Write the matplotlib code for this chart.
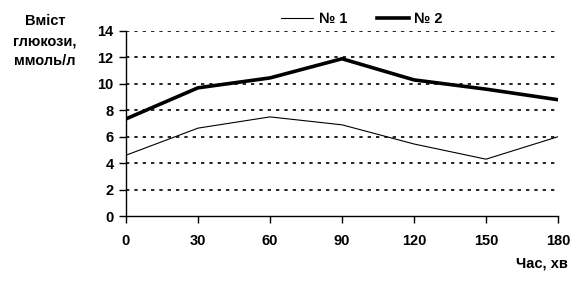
import matplotlib
matplotlib.use("Agg")
import matplotlib.pyplot as plt

plt.rcParams['font.family'] = ['Liberation Sans', 'DejaVu Sans']

time_min = [0, 30, 60, 90, 120, 150, 180]
series1 = [4.6, 6.65, 7.5, 6.9, 5.45, 4.3, 6.0]
series2 = [7.35, 9.7, 10.45, 11.9, 10.3, 9.6, 8.8]
y_ticks = [0, 2, 4, 6, 8, 10, 12, 14]

fig = plt.figure(figsize=(5.8, 2.83), dpi=100)
ax = fig.add_axes([126/580, 1-216/283, (558-126)/580, (216-31)/283])

for y in y_ticks[1:]:
    ax.axhline(y, color='black', lw=1.2, ls=(0, (2, 3)), zorder=1)

l1, = ax.plot(time_min, series1, color='black', lw=0.8, label='№ 1', zorder=3)
l2, = ax.plot(time_min, series2, color='black', lw=2.6, label='№ 2', zorder=3)

ax.set_xlim(0, 180)
ax.set_ylim(0, 14)
ax.set_xticks(time_min)
ax.set_yticks(y_ticks)
for s in ['top', 'right']:
    ax.spines[s].set_visible(False)
for s in ['left', 'bottom']:
    ax.spines[s].set_linewidth(1.0)
ax.tick_params(axis='both', direction='out', length=5, width=1, labelsize=10.5, pad=4)
for lab in ax.get_xticklabels() + ax.get_yticklabels():
    lab.set_fontweight('bold')
ax.tick_params(axis='x', pad=8)

fig.text(45/580, 1-41/283, 'Вміст\nглюкози,\nммоль/л', ha='center', va='center',
         fontsize=10.5, fontweight='bold', linespacing=1.55)
fig.text(568/580, 1-263/283, 'Час, хв', ha='right', va='center', fontsize=10.5, fontweight='bold')

leg = fig.legend(handles=[l1, l2], loc='center', bbox_to_anchor=(362/580, 1-19/283),
                 ncol=2, frameon=False, prop={'weight': 'bold', 'size': 10.5},
                 handlelength=2.2, columnspacing=2.0, handletextpad=0.4)

fig.savefig('out.png', dpi=100)
